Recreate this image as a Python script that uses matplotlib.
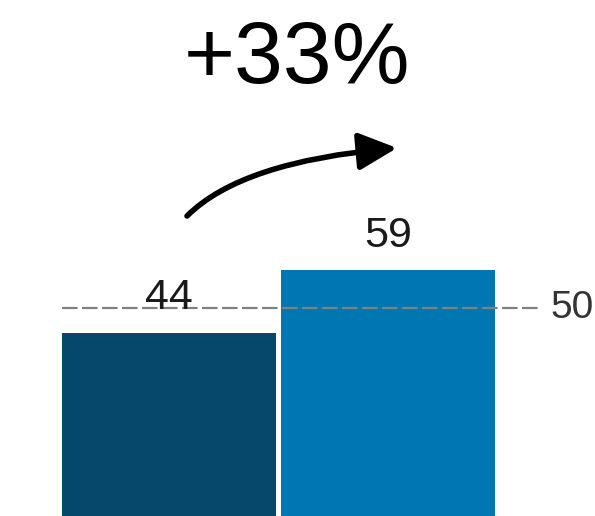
import matplotlib.pyplot as plt

plt.rcParams['font.family'] = ['Liberation Sans', 'DejaVu Sans']

# data
categories = ["A", "B"]
values = [44, 59]
bar_colors = ["#05486C", "#0077B1"]
reference = 50
change_label = "+33%"

W, H = 595, 516
fig = plt.figure(figsize=(W / 100, H / 100), dpi=100)
ax = fig.add_axes([0, 0, 1, 1])

x = list(range(len(values)))
ax.bar(x, values, width=0.975, color=bar_colors)
ax.set_xlim(-0.770, 1.941)
ax.set_ylim(0, 124)
ax.axis("off")

for xi, v in zip(x, values):
    ax.annotate(str(v), (xi, v), xytext=(0, 17), textcoords="offset points",
                ha="center", va="baseline", fontsize=31, color="#1a1a1a")

# reference line
ax.plot([-0.487, 1.69], [reference, reference], color="#808080", lw=1.6,
        dashes=(7, 2))
ax.text(1.736, reference, str(reference), ha="left", va="center",
        fontsize=28, color="#333333")

# headline
fig.text(297 / W, (H - 83) / H, change_label, ha="center", va="baseline",
         fontsize=63, color="black")

# curved arrow
ax.annotate("", xy=(397, H - 148), xycoords="figure pixels",
            xytext=(187, H - 216), textcoords="figure pixels",
            arrowprops=dict(arrowstyle="-|>,head_length=0.78,head_width=0.38",
                            mutation_scale=30, lw=4, color="black",
                            shrinkA=0, shrinkB=0,
                            connectionstyle="angle3,angleA=45,angleB=5"))

fig.savefig("out.png", dpi=100)
